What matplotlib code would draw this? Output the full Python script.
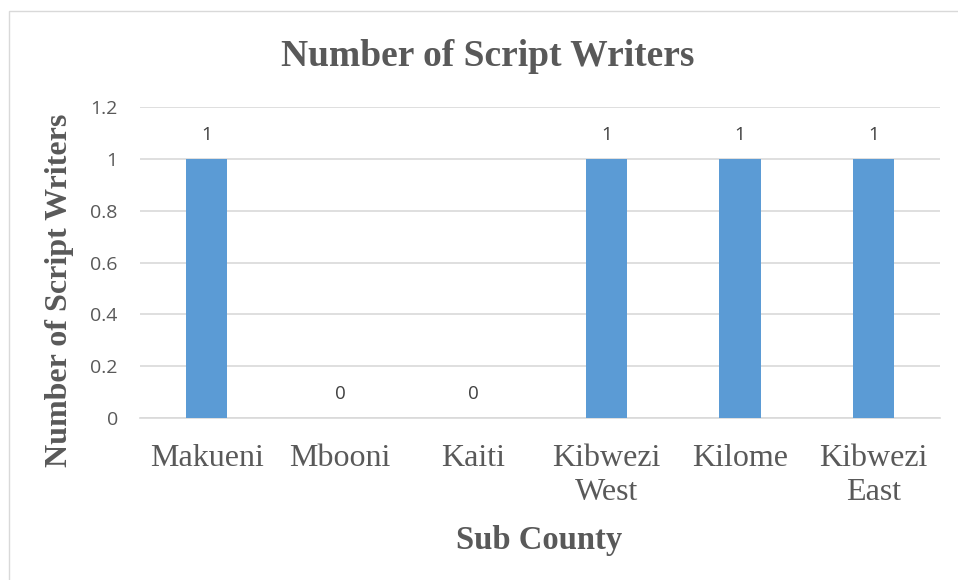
import matplotlib
matplotlib.use('Agg')
import matplotlib.pyplot as plt
import numpy as np

sub_counties = ['Makueni', 'Mbooni', 'Kaiti', 'Kibwezi\nWest', 'Kilome', 'Kibwezi\nEast']
writers = [1, 0, 0, 1, 1, 1]
y_ticks = [0, 0.2, 0.4, 0.6, 0.8, 1, 1.2]
y_tick_labels = ['0', '0.2', '0.4', '0.6', '0.8', '1', '1.2']

txt = '#595959'
serif = ['Liberation Serif', 'DejaVu Serif']
sans = ['Open Sans', 'DejaVu Sans']

fig = plt.figure(figsize=(9.58, 5.8), dpi=100)
fig.patch.set_facecolor('white')
# thin chart frame
fig.add_artist(plt.Rectangle((9/958, -0.01), 1.0, 1 - 11/580 + 0.01, transform=fig.transFigure,
                             fill=False, edgecolor='#d9d9d9', linewidth=1))

ax = fig.add_axes([140/958, 1 - 418/580, 800/958, (418 - 107)/580])
x = np.arange(len(sub_counties))
ax.bar(x, writers, width=0.31, color='#5b9bd5', zorder=3)
for xi, v in zip(x, writers):
    ax.annotate(str(v), (xi, v), textcoords='offset points', xytext=(0, 17), ha='center', va='center',
                fontsize=13.5, color='#404040', family=sans)

ax.set_xlim(-0.5, len(sub_counties) - 0.5)
ax.set_ylim(0, 1.2)
ax.set_yticks(y_ticks)
ax.set_yticklabels(y_tick_labels, family=sans, fontsize=14, color=txt)
ax.set_xticks(x)
ax.set_xticklabels(sub_counties, family=serif, fontsize=23, color=txt, linespacing=1.2)
ax.tick_params(axis='y', length=0, pad=16)
ax.tick_params(axis='x', length=0, pad=19)
ax.grid(axis='y', color='#d9d9d9', linewidth=1.2, zorder=0)
for s in ['top', 'right', 'left']:
    ax.spines[s].set_visible(False)
ax.spines['bottom'].set_color('#d9d9d9')
ax.spines['bottom'].set_linewidth(1.2)

fig.text(488/958, 1 - 57/580, 'Number of Script Writers', ha='center', va='center',
         fontsize=27, fontweight='bold', color=txt, family=serif)
fig.text(60/958, 1 - 290/580, 'Number of Script Writers', ha='center', va='center', rotation=90,
         fontsize=23, fontweight='bold', color=txt, family=serif)
fig.text(539/958, 1 - 540/580, 'Sub County', ha='center', va='center',
         fontsize=23.5, fontweight='bold', color=txt, family=serif)

plt.savefig('out.png', dpi=100, facecolor='white')
